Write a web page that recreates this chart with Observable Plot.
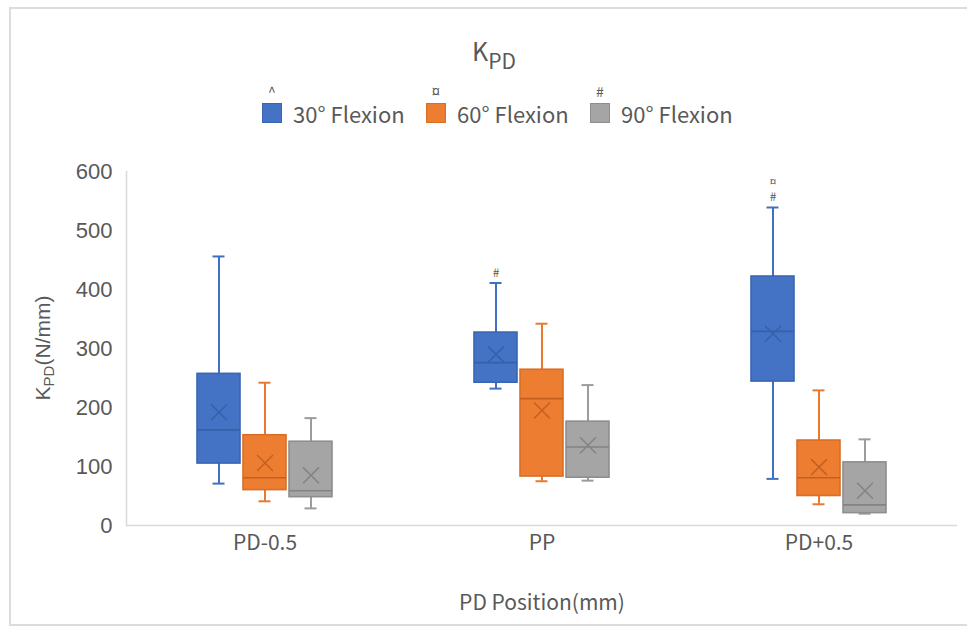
<!DOCTYPE html>
<html>
<head>
<meta charset="utf-8">
<script src="https://cdn.jsdelivr.net/npm/d3@7"></script>
<script src="https://cdn.jsdelivr.net/npm/@observablehq/plot@0.6"></script>
<style>
  html, body { margin: 0; padding: 0; background: #ffffff; }
  #chart { position: relative; width: 967px; height: 628px; overflow: hidden; background: #ffffff;
           font-family: "Noto Sans CJK SC", "Noto Sans", sans-serif; color: #595959; }
  #border { position: absolute; left: 9px; top: 7px; width: 990px; height: 619px; box-sizing: border-box;
            border: 2px solid #dcdcdc; }
  #title { position: absolute; left: 494px; top: 38px; transform: translateX(-50%); font-size: 25px;
           line-height: 1; white-space: nowrap; }
  #title sub { font-size: 21px; vertical-align: -8px; line-height: 1; }
  #legend { position: absolute; left: 262px; top: 103px; display: flex; }
  .item { position: relative; width: 164px; display: flex; align-items: center; height: 20px; }
  .sw { width: 20px; height: 20px; box-sizing: border-box; border: 1px solid; margin-right: 11px; flex: none; }
  .lbl { font-size: 22px; line-height: 1; white-space: nowrap; }
  .mk { position: absolute; left: 0; top: -19px; width: 20px; text-align: center; font-size: 14px; line-height: 1; }
  #ylab { position: absolute; left: 44px; top: 348px; transform: translate(-50%, -50%) rotate(-90deg);
          font-family: "Liberation Sans", Arial, sans-serif; font-size: 21px; white-space: nowrap; line-height: 1; }
  #ylab sub { font-size: 15px; vertical-align: -4px; }
  #plot { position: absolute; left: 0; top: 140px; }
</style>
</head>
<body>
<div id="chart">
  <div id="border"></div>
  <div id="title"></div>
  <div id="legend"></div>
  <div id="ylab"></div>
  <div id="plot"></div>
</div>
<script>
// ---- data ----
const positions = ["PD-0.5", "PP", "PD+0.5"];
const flexions = ["30° Flexion", "60° Flexion", "90° Flexion"];
const legendMarks = ["^", "¤", "#"];

// summary statistics per flexion, in order of positions
const min30  = [71, 232, 79];
const q1_30  = [105, 242, 244];
const med30  = [162, 276, 329];
const mean30 = [192, 290, 325];
const q3_30  = [257, 327, 422];
const max30  = [456, 411, 539];

const min60  = [41, 75, 36];
const q1_60  = [60, 83, 50];
const med60  = [81, 215, 81];
const mean60 = [106, 195, 99];
const q3_60  = [153, 264, 144];
const max60  = [242, 342, 229];

const min90  = [29, 76, 20];
const q1_90  = [48, 81, 21];
const med90  = [59, 133, 35];
const mean90 = [85, 136, 59];
const q3_90  = [142, 176, 107];
const max90  = [182, 238, 146];

// significance markers drawn above the 30° Flexion whiskers
const sigHashPositions = ["PP", "PD+0.5"];   // "#"
const sigCurPositions = ["PD+0.5"];          // "¤"

const yTicks = [0, 100, 200, 300, 400, 500, 600];

// ---- styles ----
const fillColors   = ["#4472C4", "#ED7D31", "#A5A5A5"];
const borderColors = ["#3A65B3", "#D86F27", "#8E8E8E"];
const whiskerColors = ["#4170C2", "#E8792F", "#9C9C9C"];
const innerColors  = ["#3560AA", "#C4601F", "#838383"];

const stats = [
  [min30, q1_30, med30, mean30, q3_30, max30],
  [min60, q1_60, med60, mean60, q3_60, max60],
  [min90, q1_90, med90, mean90, q3_90, max90]
];
const rows = [];
flexions.forEach((f, i) => {
  const [mn, q1, md, me, q3, mx] = stats[i];
  positions.forEach((p, j) => {
    rows.push({pos: p, flex: f, fi: i, min: mn[j], q1: q1[j], med: md[j], mean: me[j], q3: q3[j], max: mx[j]});
  });
});

// ---- HTML title / legend / y label ----
document.getElementById("title").innerHTML = "K<sub>PD</sub>";
document.getElementById("ylab").innerHTML = "K<sub>PD</sub>(N/mm)";
const legend = d3.select("#legend");
flexions.forEach((f, i) => {
  const it = legend.append("div").attr("class", "item");
  it.append("div").attr("class", "mk").text(legendMarks[i]);
  it.append("div").attr("class", "sw").style("background", fillColors[i]).style("border-color", borderColors[i]);
  it.append("div").attr("class", "lbl").text(f);
});

// ---- plot ----
const fx = "pos", x = "flex";
const plot = Plot.plot({
  width: 967,
  height: 488,
  marginTop: 31,
  marginBottom: 103,
  marginLeft: 125,
  marginRight: 9,
  style: {fontFamily: "'Noto Sans CJK SC', 'Noto Sans', sans-serif", color: "#595959", background: "transparent", overflow: "visible"},
  fx: {domain: positions, padding: 0},
  x: {domain: flexions, paddingInner: 0.06, paddingOuter: 1.48, axis: null},
  y: {domain: [0, 600]},
  marks: [
    Plot.axisY({ticks: yTicks, tickSize: 0, tickPadding: 14, label: null, fontSize: 22, fill: "#595959",
                fontFamily: "'Liberation Sans', Arial, sans-serif"}),
    Plot.axisFx({anchor: "bottom", tickSize: 0, tickPadding: 10, fontSize: 21, fill: "#595959",
                 label: "PD Position(mm)", labelAnchor: "center", labelOffset: 84}),
    Plot.ruleY([0], {stroke: "#d9d9d9", strokeWidth: 1.5}),
    Plot.frame({anchor: "left", stroke: "#d9d9d9", strokeWidth: 1.5, facetAnchor: "left"}),
    // whiskers
    Plot.ruleX(rows, {fx, x, y1: "min", y2: "max", stroke: d => whiskerColors[d.fi], strokeWidth: 2}),
    Plot.tickY(rows, {fx, x, y: "max", stroke: d => whiskerColors[d.fi], strokeWidth: 2, insetLeft: 15.5, insetRight: 15.5}),
    Plot.tickY(rows, {fx, x, y: "min", stroke: d => whiskerColors[d.fi], strokeWidth: 2, insetLeft: 15.5, insetRight: 15.5}),
    // boxes
    Plot.barY(rows, {fx, x, y1: "q1", y2: "q3", fill: d => fillColors[d.fi], stroke: d => borderColors[d.fi], strokeWidth: 1.6}),
    // median
    Plot.tickY(rows, {fx, x, y: "med", stroke: d => innerColors[d.fi], strokeWidth: 1.6}),
    // mean
    Plot.dot(rows, {fx, x, y: "mean", symbol: "times", r: 7.3, stroke: d => innerColors[d.fi], strokeWidth: 1.5}),
    // significance markers
    Plot.text(rows.filter(d => d.fi === 0 && sigHashPositions.includes(d.pos)),
      {fx, x, y: "max", text: () => "#", dy: -10, fontSize: 12, fill: "#595959"}),
    Plot.text(rows.filter(d => d.fi === 0 && sigCurPositions.includes(d.pos)),
      {fx, x, y: "max", text: () => "¤", dy: -25, fontSize: 11, fill: "#595959"})
  ]
});
document.getElementById("plot").appendChild(plot);
</script>
</body>
</html>
